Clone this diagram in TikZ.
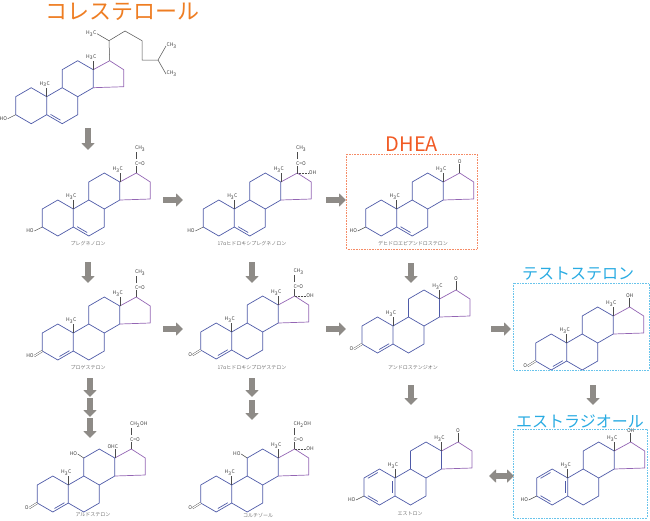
\documentclass[tikz,border=0pt]{standalone}
\usepackage{fontspec}
\setmainfont{Noto Sans CJK JP}
\usetikzlibrary{positioning,calc,arrows.meta}

\definecolor{ringblue}{HTML}{4F5BA8}
\definecolor{ringpurple}{HTML}{9466B4}
\definecolor{flowgray}{HTML}{8E8B87}
\definecolor{cholorange}{HTML}{EE7D22}
\definecolor{dheared}{HTML}{F15A24}
\definecolor{testocyan}{HTML}{29ABE2}

\tikzset{
  ringabc/.style={draw=ringblue, line width=0.7pt, line join=round},
  ringd/.style={draw=ringpurple, line width=0.7pt, line join=round},
  bond/.style={draw=black!70, line width=0.5pt},
  atom/.style={font=\fontsize{5}{5}\selectfont, inner sep=0.4pt, text=black!75},
  lbl/.style={font=\fontsize{5}{6}\selectfont, text=black!55, inner sep=0pt},
  title/.style={font=\fontsize{#1}{#1}\selectfont, inner sep=0pt},
  flow/.style={draw=flowgray, line width=5.5pt, -{Triangle[width=13pt,length=7pt]}},
  flowboth/.style={draw=flowgray, line width=5.5pt, {Triangle[width=13pt,length=7pt]}-{Triangle[width=13pt,length=7pt]}},
  hbox/.style={densely dotted, line width=0.6pt}
}

% steroid skeleton: name, position of C10, text of C18
\newcommand{\steroid}[3]{%
  \begin{scope}[shift={#2}]
    \coordinate (#1-10) at (0,0);
    \coordinate (#1-1) at (-15.5,-9);
    \coordinate (#1-2) at (-31,0);
    \coordinate (#1-3) at (-31,18);
    \coordinate (#1-4) at (-15.5,27);
    \coordinate (#1-5) at (0,18);
    \coordinate (#1-6) at (15.5,27);
    \coordinate (#1-7) at (31,18);
    \coordinate (#1-8) at (31,0);
    \coordinate (#1-9) at (15.5,-9);
    \coordinate (#1-11) at (15.5,-27);
    \coordinate (#1-12) at (31,-36);
    \coordinate (#1-13) at (46.5,-27);
    \coordinate (#1-14) at (46.5,-9);
    \coordinate (#1-15) at (77,-10);
    \coordinate (#1-16) at (77,-27);
    \coordinate (#1-17) at (63,-36);
    \draw[ringabc] (#1-10) -- (#1-1) -- (#1-2) -- (#1-3) -- (#1-4) -- (#1-5) -- cycle;
    \draw[ringabc] (#1-5) -- (#1-6) -- (#1-7) -- (#1-8) -- (#1-9) -- (#1-10);
    \draw[ringabc] (#1-9) -- (#1-11) -- (#1-12) -- (#1-13) -- (#1-14) -- (#1-8);
    \draw[ringd] (#1-13) -- (#1-17) -- (#1-16) -- (#1-15) -- (#1-14);
    % angular methyl groups
    \draw[bond] (#1-10) -- ++(0,-9) node[atom, above, xshift=-2pt] (#1-m19) {H\textsubscript{3}C};
    \draw[bond] (#1-13) -- ++(0,-9) node[atom, above, xshift=-2pt] (#1-m18) {#3};
  \end{scope}}

% inner line of a ring double bond
\newcommand{\dbl}[2]{%
  \draw[ringabc] ($(#1)!.18!(#2)!2.2pt!90:(#2)$) -- ($(#2)!.18!(#1)!2.2pt!-90:(#1)$);}

% 3-hydroxy and 3-keto groups
\newcommand{\hydroxy}[2]{%
  \draw[bond] (#1-3) -- ++(-8,4) node[atom, left] (#1-o3) {#2};}
\newcommand{\keto}[2]{%
  \draw[bond, double, double distance=1.2pt, line width=0.4pt] (#1-3) -- ++(-8,5) node[atom, left] (#1-o3) {#2};}

% side chain at C17: name, top text
\newcommand{\acetyl}[2]{%
  \draw[bond] (#1-17) -- ++(0,-7) coordinate (#1-a1);
  \node[atom, anchor=south west, xshift=-1.8pt] (#1-co) at (#1-a1) {C=O};
  \draw[bond] ($(#1-a1)+(0,-7)$) -- ++(0,-7) coordinate (#1-a2);
  \node[atom, anchor=south west, xshift=-1.8pt] (#1-ch) at (#1-a2) {#2};}
\newcommand{\alphaoh}[1]{%
  \draw[bond, densely dotted] (#1-17) -- ++(11,0) node[atom, right] (#1-oh17) {OH};}
\newcommand{\topgroup}[3]{%
  \draw[bond, #3] (#1-17) -- ++(0,-9) node[atom, above] (#1-o17) {#2};}

\begin{document}
\begin{tikzpicture}[x=1pt, y=-1pt]
  \useasboundingbox (0,0) rectangle (650,520);

  % cholesterol
  \steroid{chol}{(46.7,96.7)}{H\textsubscript{3}C}
  \dbl{chol-5}{chol-6}
  \hydroxy{chol}{HO}
  \coordinate (c20) at (109,40.7);
  \coordinate (c22) at (125,31);
  \coordinate (c23) at (142,40.7);
  \coordinate (c24) at (142,60);
  \coordinate (c25) at (158,60);
  \draw[bond] (chol-17) -- (c20) -- (c22) -- (c23) -- (c24) -- (c25);
  \draw[bond] (c20) -- ++(-12,-7) node[atom, left] (c21) {H\textsubscript{3}C};
  \draw[bond] (c25) -- ++(8,-14) node[atom, right] (c26) {CH\textsubscript{3}};
  \draw[bond] (c25) -- ++(8,14) node[atom, right] (c27) {CH\textsubscript{3}};

  % pregnenolone and 17-hydroxypregnenolone
  \steroid{preg}{(73.3,209)}{H\textsubscript{3}C}
  \dbl{preg-5}{preg-6}
  \hydroxy{preg}{HO}
  \acetyl{preg}{CH\textsubscript{3}}
  \steroid{hpreg}{(234.3,209)}{H\textsubscript{3}C}
  \dbl{hpreg-5}{hpreg-6}
  \hydroxy{hpreg}{HO}
  \acetyl{hpreg}{CH\textsubscript{3}}
  \alphaoh{hpreg}

  % DHEA
  \steroid{dhea}{(396.7,209)}{H\textsubscript{3}C}
  \dbl{dhea-5}{dhea-6}
  \hydroxy{dhea}{HO}
  \topgroup{dhea}{O}{}

  % progesterone, 17-hydroxyprogesterone, androstenedione, testosterone
  \steroid{prog}{(73.3,333)}{H\textsubscript{3}C}
  \dbl{prog-4}{prog-5}
  \keto{prog}{HO}
  \acetyl{prog}{CH\textsubscript{3}}
  \steroid{hprog}{(231.7,332)}{H\textsubscript{3}C}
  \dbl{hprog-4}{hprog-5}
  \keto{hprog}{O}
  \acetyl{hprog}{CH\textsubscript{3}}
  \alphaoh{hprog}
  \steroid{andro}{(393,326)}{H\textsubscript{3}C}
  \dbl{andro-4}{andro-5}
  \keto{andro}{O}
  \topgroup{andro}{O}{}
  \steroid{testo}{(566.7,343)}{H\textsubscript{3}C}
  \dbl{testo-4}{testo-5}
  \keto{testo}{O}
  \topgroup{testo}{OH}{}

  % aldosterone and cortisol
  \steroid{aldo}{(68.3,485)}{OHC}
  \dbl{aldo-4}{aldo-5}
  \keto{aldo}{O}
  \acetyl{aldo}{CH\textsubscript{2}OH}
  \draw[bond] (aldo-11) -- ++(-6,-4) node[atom, left] (aldo-o11) {HO};
  \steroid{cort}{(231.7,485)}{H\textsubscript{3}C}
  \dbl{cort-4}{cort-5}
  \keto{cort}{O}
  \acetyl{cort}{CH\textsubscript{2}OH}
  \alphaoh{cort}
  \draw[bond] (cort-11) -- ++(-6,-4) node[atom, left] (cort-o11) {HO};

  % estrone and estradiol
  \steroid{estrone}{(395,478)}{H\textsubscript{3}C}
  \dbl{estrone-1}{estrone-2}
  \dbl{estrone-3}{estrone-4}
  \dbl{estrone-5}{estrone-10}
  \hydroxy{estrone}{HO}
  \topgroup{estrone}{O}{}
  \steroid{estradiol}{(567.7,478)}{H\textsubscript{3}C}
  \dbl{estradiol-1}{estradiol-2}
  \dbl{estradiol-3}{estradiol-4}
  \dbl{estradiol-5}{estradiol-10}
  \hydroxy{estradiol}{HO}
  \topgroup{estradiol}{OH}{}

  % names
  \node[lbl] (n-preg) at (88,244) {プレグネノロン};
  \node[lbl] (n-hpreg) at (252,244) {17αヒドロキシプレグネノロン};
  \node[lbl] (n-dhea) at (413,244) {デヒドロエピアンドロステロン};
  \node[lbl] (n-prog) at (88,368) {プロゲステロン};
  \node[lbl] (n-hprog) at (252,368) {17αヒドロキシプロゲステロン};
  \node[lbl] (n-andro) at (413,368) {アンドロステンジオン};
  \node[lbl] (n-aldo) at (93,515) {アルドステロン};
  \node[lbl] (n-cort) at (258,515) {コルチゾール};
  \node[lbl] (n-estrone) at (410,514) {エストロン};

  % titles and boxes
  \node[title=22, text=cholorange] (t-chol) at (122,12) {コレステロール};
  \node[title=20, text=dheared] (t-dhea) at (412,144) {DHEA};
  \node[title=16, text=testocyan] (t-testo) at (578,274) {テストステロン};
  \node[title=16, text=testocyan] (t-estradiol) at (580,421) {エストラジオール};
  \draw[hbox, draw=dheared!70] (346.7,154) rectangle (477,249);
  \draw[hbox, draw=testocyan!70] (513,283) rectangle (649,370);
  \draw[hbox, draw=testocyan!70] (513,429) rectangle (647,518);

  % conversion arrows
  \foreach \i/\xa/\ya/\xb/\yb in {1/88/128/88/150, 2/88/262/88/283,
      3/90/378/90/397, 4/90/398/90/417, 5/90/418/90/438,
      6/252/262/252/283, 7/252/378/252/397, 8/252/400/252/420,
      9/411/263/411/283, 10/411/385/411/405, 11/593/385/593/405,
      12/163/200/183/200, 13/326/200/346/200,
      14/163/329/183/329, 15/326/329/346/329, 16/491/329/511/329}
  {
    \coordinate (s\i) at (\xa,\ya);
    \coordinate (e\i) at (\xb,\yb);
    \draw[flow] (s\i) -- (e\i);
  }
  \coordinate (s17) at (489,476);
  \coordinate (e17) at (514,476);
  \draw[flowboth] (s17) -- (e17);
\end{tikzpicture}
\end{document}
